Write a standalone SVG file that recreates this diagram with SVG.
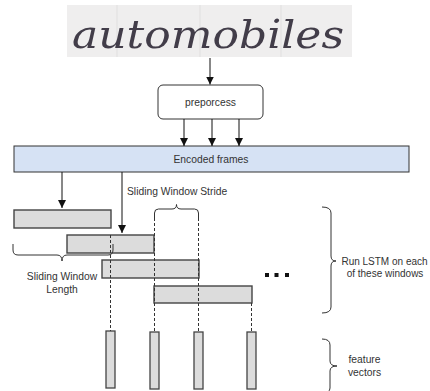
<svg xmlns="http://www.w3.org/2000/svg" width="430" height="391" viewBox="0 0 430 391">
  <style>
    text { font-family: "Liberation Sans", Arial, sans-serif; font-size: 10.3px; fill: #333; }
    .mid { text-anchor: middle; }
    .small { font-size: 10px; }
    .conn { stroke: #111; stroke-width: 1; fill: none; }
    .dash { stroke: #333; stroke-width: 1; stroke-dasharray: 3 2; fill: none; }
    .brace { stroke: #333; stroke-width: 1; fill: none; }
    .win { fill: #dcdcdc; stroke: #444; stroke-width: 1.4; }
    .vec { fill: #dcdcdc; stroke: #444; stroke-width: 1.3; }
  </style>
  <defs>
    <marker id="arrow" viewBox="0 0 8 8" refX="8" refY="4" markerWidth="8" markerHeight="8" markerUnits="userSpaceOnUse" orient="auto">
      <path d="M0,0 L8,4 L0,8 Z" fill="#111"/>
    </marker>
    <filter id="soft" x="-5%" y="-20%" width="110%" height="140%">
      <feGaussianBlur stdDeviation="0.7"/>
    </filter>
  </defs>

  <rect width="430" height="391" fill="#fff"/>

  <!-- handwritten word sample -->
  <g id="input-word">
    <rect x="67" y="5" width="285" height="52" fill="#efeeee"/>
    <g stroke="#e0dfdf" stroke-width="1">
      <line x1="117" y1="5" x2="117" y2="57"/>
      <line x1="200" y1="5" x2="200" y2="57"/>
      <line x1="281" y1="5" x2="281" y2="57"/>
    </g>
    <text x="72" y="48" filter="url(#soft)" style="font-family:'DejaVu Serif','Liberation Serif',serif;font-style:italic;font-size:40px;fill:#433e4a" textLength="272" lengthAdjust="spacingAndGlyphs">automobiles</text>
  </g>

  <!-- preprocessing step -->
  <g id="preprocess">
    <rect x="158" y="85" width="105" height="34" rx="5" ry="5" fill="#fff" stroke="#333" stroke-width="1"/>
    <text class="mid" x="210.5" y="106">preporcess</text>
  </g>

  <!-- encoded frame sequence -->
  <g id="encoded-frames">
    <rect x="14" y="146" width="395" height="26" fill="#d6e2f4" stroke="#333" stroke-width="1"/>
    <text class="mid" x="211" y="163">Encoded frames</text>
  </g>

  <!-- sliding windows -->
  <g id="window-1"><rect class="win" x="14" y="210" width="97" height="18"/></g>
  <g id="window-2"><rect class="win" x="67" y="235" width="87" height="18"/></g>
  <g id="window-3"><rect class="win" x="102" y="260" width="97" height="18"/></g>
  <g id="window-4"><rect class="win" x="154" y="286" width="98" height="17"/></g>

  <!-- feature vectors -->
  <g id="vector-1"><rect class="vec" x="106" y="331" width="9" height="57"/></g>
  <g id="vector-2"><rect class="vec" x="150" y="332" width="9" height="57"/></g>
  <g id="vector-3"><rect class="vec" x="194" y="332" width="9" height="57"/></g>
  <g id="vector-4"><rect class="vec" x="247" y="332" width="9" height="57"/></g>

  <!-- ellipsis -->
  <g id="more-windows" fill="#111">
    <rect x="265" y="273" width="4" height="4"/>
    <rect x="274.5" y="273" width="4" height="4"/>
    <rect x="285" y="273" width="4" height="4"/>
  </g>

  <!-- connectors -->
  <g id="connectors">
    <line class="conn" x1="210" y1="58" x2="210" y2="84.5" marker-end="url(#arrow)"/>
    <line class="conn" x1="184" y1="119" x2="184" y2="146" marker-end="url(#arrow)"/>
    <line class="conn" x1="212" y1="119" x2="212" y2="146" marker-end="url(#arrow)"/>
    <line class="conn" x1="239" y1="119" x2="239" y2="146" marker-end="url(#arrow)"/>
    <line class="conn" x1="62" y1="172" x2="62" y2="208" marker-end="url(#arrow)"/>
    <line class="conn" x1="122" y1="172" x2="122" y2="233" marker-end="url(#arrow)"/>

    <line class="dash" x1="110.5" y1="235" x2="110.5" y2="331"/>
    <line class="dash" x1="154.5" y1="218" x2="154.5" y2="332"/>
    <line class="dash" x1="198.5" y1="218" x2="198.5" y2="332"/>
    <line class="dash" x1="251.5" y1="303" x2="251.5" y2="332"/>
  </g>

  <!-- annotation braces -->
  <g id="stride-label">
    <path class="brace" d="M154.5,219 L154.5,213 Q154.5,209 158.5,209 L172,209 Q176.5,209 176.5,204.5 Q176.5,209 181,209 L194.5,209 Q198.5,209 198.5,213 L198.5,219"/>
    <text x="127" y="195">Sliding Window Stride</text>
  </g>
  <g id="length-label">
    <path class="brace" d="M13,244 L13,250 Q13,255 18,255 L57,255 Q62,255 62,261 Q62,255 67,255 L108,255 Q113,255 113,250 L113,244"/>
    <text class="mid" x="62" y="280">Sliding Window</text>
    <text class="mid" x="62" y="292.5">Length</text>
  </g>
  <g id="lstm-label">
    <path class="brace" d="M322,207 Q331,207 331,213 L331,256 Q331,261 336,261 Q331,261 331,266 L331,307 Q331,313 322,313"/>
    <text class="mid small" x="384.5" y="264.5">Run LSTM on each</text>
    <text class="mid small" x="385" y="277">of these windows</text>
  </g>
  <g id="vectors-label">
    <path class="brace" d="M322,339 Q330,339 330,345 L330,361 Q330,366 337,366 Q330,366 330,371 L330,388 Q330,393 322,393"/>
    <text class="mid" x="364.5" y="362.5">feature</text>
    <text class="mid" x="364.5" y="375.5">vectors</text>
  </g>
</svg>
